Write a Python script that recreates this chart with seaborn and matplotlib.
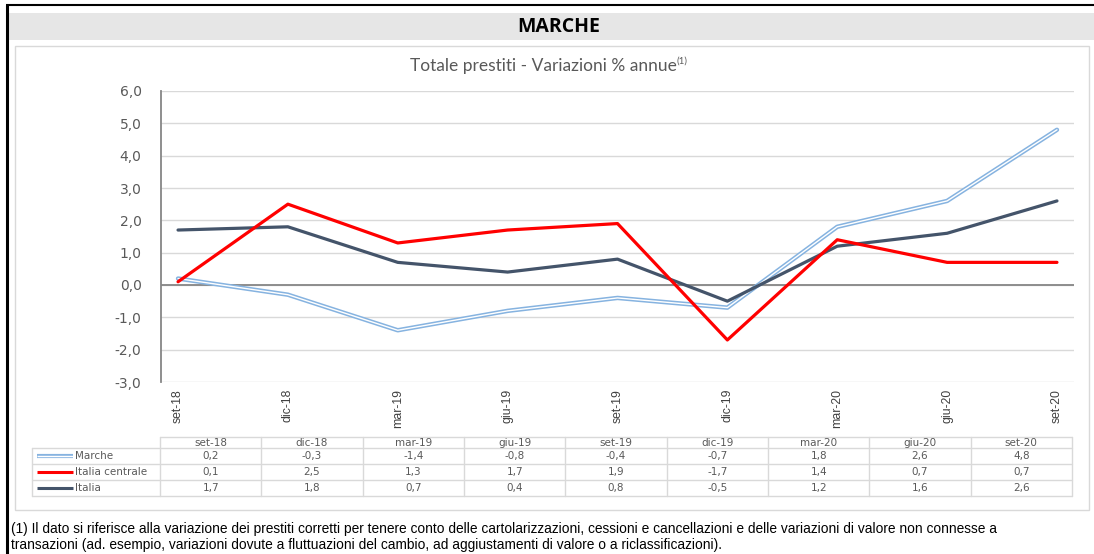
import numpy as np
import pandas as pd
import matplotlib
matplotlib.use("Agg")
import matplotlib.pyplot as plt
from matplotlib.patches import Rectangle
import seaborn as sns

# dati (variazioni % annue dei prestiti)
periodi = ["set-18", "dic-18", "mar-19", "giu-19", "set-19", "dic-19", "mar-20", "giu-20", "set-20"]
marche = [0.2, -0.3, -1.4, -0.8, -0.4, -0.7, 1.8, 2.6, 4.8]
italia_centrale = [0.1, 2.5, 1.3, 1.7, 1.9, -1.7, 1.4, 0.7, 0.7]
italia = [1.7, 1.8, 0.7, 0.4, 0.8, -0.5, 1.2, 1.6, 2.6]
serie = ["Marche", "Italia centrale", "Italia"]
y_ticks = [-3, -2, -1, 0, 1, 2, 3, 4, 5, 6]

titolo = "Totale prestiti - Variazioni % annue"
nota = ("(1) Il dato si riferisce alla variazione dei prestiti corretti per tenere conto delle "
        "cartolarizzazioni, cessioni e cancellazioni e delle variazioni di valore non connesse a\n"
        "transazioni (ad. esempio, variazioni dovute a fluttuazioni del cambio, ad aggiustamenti "
        "di valore o a riclassificazioni).")

colori = {"Marche": "#86b3e0", "Italia centrale": "#ff0000", "Italia": "#44546a"}

df = pd.DataFrame({
    "pos": list(range(len(periodi))) * 3,
    "periodo": periodi * 3,
    "serie": np.repeat(serie, len(periodi)),
    "valore": marche + italia_centrale + italia,
})

sns.set_theme(style="white")
plt.rcParams["font.family"] = ["DejaVu Sans"]
ARIAL = ["Liberation Sans", "DejaVu Sans"]
GRIGIO = "#595959"

W, H = 1094, 554
fig = plt.figure(figsize=(W / 100, H / 100), dpi=100)

# sfondo in coordinate pixel: cornice, intestazione, riquadro, tabella, nota
bg = fig.add_axes([0, 0, 1, 1], zorder=0)
bg.set_xlim(0, W)
bg.set_ylim(H, 0)
bg.axis("off")

bg.plot([7, 7], [5, H], color="black", lw=2.2, solid_capstyle="butt")
bg.plot([6, W], [5, 5], color="black", lw=1.5, solid_capstyle="butt")
bg.add_patch(Rectangle((9, 13), W - 9, 27, facecolor="#e6e6e6", edgecolor="none"))
bg.text(559, 27, "MARCHE", ha="center", va="center", fontsize=14,
        fontweight="bold", family=["Open Sans", "DejaVu Sans"], color="black")
bg.add_patch(Rectangle((15, 46), 1074, 464, facecolor="white", edgecolor="#d9d9d9", lw=1))

t = bg.text(543, 66, titolo, ha="center", va="center", fontsize=12.5,
            family=["Lato", "DejaVu Sans"], color=GRIGIO)
bg.annotate("(1)", xy=(1, 0.55), xycoords=t, ha="left", va="bottom", fontsize=7,
            family=["Lato", "DejaVu Sans"], color=GRIGIO)

# tabella dati
x0, x1 = 160, 1072
cw = (x1 - x0) / len(periodi)
y_head, y_data, rh = 437, 448, 16
lc = "#d9d9d9"
bg.plot([x0, x1], [y_head, y_head], color=lc, lw=1)
for k in range(4):
    bg.plot([32, x1], [y_data + k * rh] * 2, color=lc, lw=1)
for i in range(len(periodi) + 1):
    bg.plot([x0 + i * cw] * 2, [y_head, y_data + 3 * rh], color=lc, lw=1)
bg.plot([32, 32], [y_data, y_data + 3 * rh], color=lc, lw=1)
for i, p in enumerate(periodi):
    bg.text(x0 + (i + 0.5) * cw, (y_head + y_data) / 2 + 0.5, p, ha="center", va="center",
            fontsize=7.5, color=GRIGIO)
valori = {"Marche": marche, "Italia centrale": italia_centrale, "Italia": italia}
for r, s in enumerate(serie):
    yc = y_data + (r + 0.5) * rh
    for i, v in enumerate(valori[s]):
        bg.text(x0 + (i + 0.5) * cw, yc, f"{v:.1f}".replace(".", ","), ha="center",
                va="center", fontsize=7.5, color=GRIGIO)
    if s == "Marche":
        bg.plot([37, 73], [yc, yc], color=colori[s], lw=3, solid_capstyle="butt")
        bg.plot([37, 73], [yc, yc], color="white", lw=1, solid_capstyle="butt")
    else:
        bg.plot([37, 73], [yc, yc], color=colori[s], lw=2.2, solid_capstyle="butt")
    bg.text(75, yc, s, ha="left", va="center", fontsize=7.5, color=GRIGIO)

bg.text(11, 537, nota, ha="left", va="center", fontsize=9.9, family=ARIAL,
        color="black", linespacing=1.15)

# grafico
ax = fig.add_axes([161 / W, (H - 382) / H, (1074 - 161) / W, (382 - 91) / H], zorder=1)
ax.set_facecolor("white")

sub = df[df["serie"] == "Marche"]
sns.lineplot(data=sub, x="pos", y="valore", color=colori["Marche"], lw=3.2, ax=ax)
sns.lineplot(data=sub, x="pos", y="valore", color="white", lw=1.0, ax=ax)
for s in ["Italia", "Italia centrale"]:
    sub = df[df["serie"] == s]
    sns.lineplot(data=sub, x="pos", y="valore", color=colori[s], lw=2.3, ax=ax)

ax.set_xlim(-0.155, len(periodi) - 1 + 0.155)
ax.set_ylim(min(y_ticks), max(y_ticks))
ax.set_yticks(y_ticks)
ax.set_yticklabels([f"{v:.1f}".replace(".", ",") for v in y_ticks], fontsize=10, color=GRIGIO)
ax.set_xticks(range(len(periodi)))
ax.set_xticklabels(periodi, rotation=90, fontsize=8.8, family=ARIAL, color="#404040",
                   va="top", ha="center")
ax.tick_params(axis="both", length=0)
ax.tick_params(axis="y", pad=14)
ax.tick_params(axis="x", pad=5)
ax.set_xlabel("")
ax.set_ylabel("")
ax.yaxis.grid(True, color="#d9d9d9", lw=1)
ax.set_axisbelow(True)
ax.axhline(0, color="#868686", lw=1.3, zorder=1.5)
for side in ["top", "right", "bottom"]:
    ax.spines[side].set_visible(False)
ax.spines["left"].set_color("#868686")
ax.spines["left"].set_linewidth(1.3)

fig.savefig("out.png", dpi=100)
